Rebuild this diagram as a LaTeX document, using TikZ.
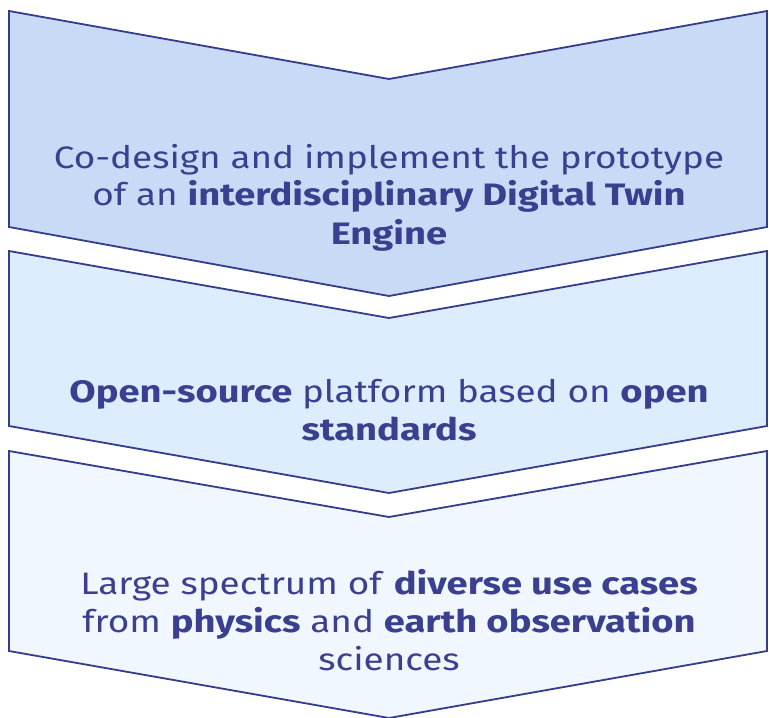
\documentclass[tikz,border=0pt]{standalone}
\usepackage{fontspec}
\setmainfont{Fira Sans}[UprightFeatures={FakeStretch=1.19}, BoldFeatures={FakeStretch=1.23}]
\definecolor{edge}{HTML}{343C8C}
\definecolor{ink}{HTML}{3A3F8F}
\definecolor{fillA}{HTML}{C9DAF6}
\definecolor{fillB}{HTML}{DDEDFD}
\definecolor{fillC}{HTML}{F0F7FF}
\tikzset{
  chevron/.style={draw=edge, line width=1.8pt, line join=miter},
  txt/.style={anchor=base, inner sep=0pt, text=ink, font=\fontsize{31}{36}\selectfont}
}
\begin{document}
\begin{tikzpicture}[x=1pt,y=-1pt]
\useasboundingbox (0,0) rectangle (769,718);

% three stacked chevrons
\draw[chevron, fill=fillA] (9,11) -- (389,79) -- (767,11) -- (767,227) -- (389,296) -- (9,227) -- cycle;
\draw[chevron, fill=fillB] (9,251) -- (389,318) -- (767,251) -- (767,426) -- (389,493) -- (9,426) -- cycle;
\draw[chevron, fill=fillC] (9,451) -- (389,517) -- (767,451) -- (767,651) -- (389,718) -- (9,651) -- cycle;

% first chevron
\node[txt] (l11) at (389,168) {Co-design and implement the prototype};
\node[txt] (l12) at (389,205) {of an \textbf{interdisciplinary Digital Twin}};
\node[txt] (l13) at (389,244) {\textbf{Engine}};

% second chevron
\node[txt] (l21) at (389,402) {\textbf{Open-source} platform based on \textbf{open}};
\node[txt] (l22) at (389,440) {\textbf{standards}};

% third chevron
\node[txt] (l31) at (389,594) {Large spectrum of \textbf{diverse use cases}};
\node[txt] (l32) at (389,632) {from \textbf{physics} and \textbf{earth observation}};
\node[txt] (l33) at (389,670) {sciences};
\end{tikzpicture}
\end{document}
